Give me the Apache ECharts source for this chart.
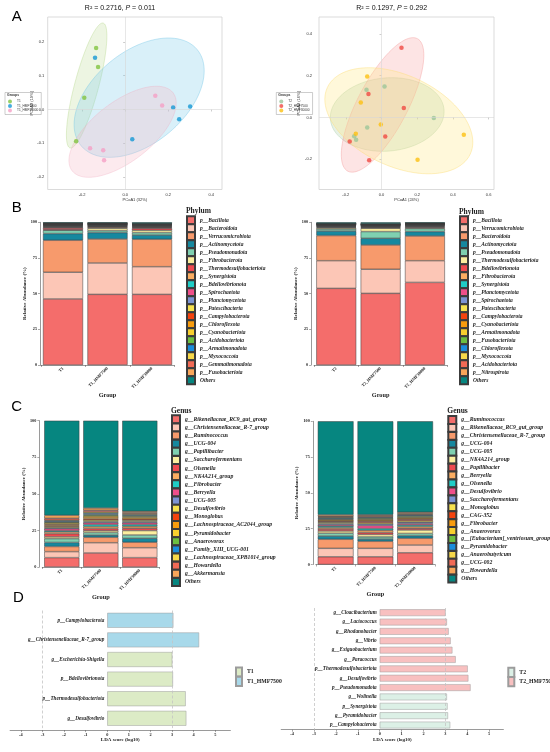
<!DOCTYPE html>
<html lang="en">
<head>
<meta charset="UTF-8">
<title>PCoA, community composition and LEfSe</title>
<script src="https://cdn.jsdelivr.net/npm/echarts@6.0.0/dist/echarts.min.js"></script>
<style>
    * { margin: 0; padding: 0; box-sizing: border-box; }
    body { width: 550px; height: 752px; background: #ffffff; overflow: hidden; }
    .layer { position: absolute; left: 0; top: 0; width: 550px; height: 752px; }
</style>
</head>
<body>
<div id="pcoaT1" class="layer"></div>
<div id="pcoaT2" class="layer"></div>
<div id="phylumT1" class="layer"></div>
<div id="phylumT2" class="layer"></div>
<div id="genusT1" class="layer"></div>
<div id="genusT2" class="layer"></div>
<div id="ldaT1" class="layer"></div>
<div id="ldaT2" class="layer"></div>
<script>
// ---------- data ----------
const groupsT1 = ['T1', 'T1_HMF7500', 'T1_HMF30000'];
const groupsT2 = ['T2', 'T2_HMF7500', 'T2_HMF30000'];

// PCoA scores [PCoA1, PCoA2]
const pcoaT1_T1 = [[-0.135, 0.182], [-0.126, 0.126], [-0.190, 0.035], [-0.228, -0.094]];
const pcoaT1_HMF7500 = [[-0.140, 0.153], [0.033, -0.088], [0.223, 0.006], [0.302, 0.009], [0.251, -0.029]];
const pcoaT1_HMF30000 = [[0.140, 0.041], [0.172, 0.012], [-0.163, -0.115], [-0.102, -0.121], [-0.098, -0.150]];
const pcoaT2_T2 = [[-0.084, 0.133], [0.017, 0.148], [-0.080, -0.048], [-0.153, -0.090], [-0.142, -0.107], [0.293, -0.003]];
const pcoaT2_HMF7500 = [[0.112, 0.335], [-0.073, 0.112], [0.125, 0.045], [0.021, -0.091], [-0.178, -0.115], [-0.069, -0.205]];
const pcoaT2_HMF30000 = [[-0.080, 0.197], [-0.116, 0.072], [-0.004, -0.034], [-0.144, -0.078], [0.461, -0.083], [0.202, -0.203]];
// ellipses: [cx, cy, axis1 dx, axis1 dy, axis2 dx, axis2 dy]
const ellipsesT1 = [
    [-0.179, 0.071, 0.077, 0.185, 0.054, -0.009],
    [0.065, 0.035, 0.269, 0.143, 0.138, -0.104],
    [-0.012, -0.066, 0.234, 0.116, 0.086, -0.069]
];
const ellipsesT2 = [
    [0.032, 0.014, 0.318, 0.024, 0.018, -0.175],
    [0.006, 0.060, 0.195, 0.318, 0.124, -0.056],
    [0.097, -0.016, 0.400, -0.160, -0.108, -0.198]
];

// phylum relative abundance (%)
const phylaT1 = ['p__Bacillota', 'p__Bacteroidota', 'p__Verrucomicrobiota', 'p__Actinomycetota', 'p__Pseudomonadota',
    'p__Fibrobacterota', 'p__Thermodesulfobacteriota', 'p__Synergistota', 'p__Bdellovibrionota', 'p__Spirochaetota',
    'p__Planctomycetota', 'p__Patescibacteria', 'p__Campylobacterota', 'p__Chloroflexota', 'p__Cyanobacteriota',
    'p__Acidobacteriota', 'p__Armatimonadota', 'p__Myxococcota', 'p__Gemmatimonadota', 'p__Fusobacteriota', 'Others'];
const phylumT1_T1 = [46.3, 18.7, 22.4, 4.7, 2.3, 0.4, 1.2, 0.5, 0.3, 0.4, 0.3, 0.3, 0.2, 0.3, 0.2, 0.2, 0.2, 0.2, 0.2, 0.1, 0.6];
const phylumT1_HMF7500 = [49.5, 22.0, 16.8, 4.5, 1.4, 1.6, 0.6, 0.4, 0.3, 0.3, 0.3, 0.3, 0.2, 0.2, 0.2, 0.2, 0.2, 0.2, 0.1, 0.1, 0.6];
const phylumT1_HMF30000 = [49.5, 19.4, 19.2, 3.0, 1.7, 1.6, 1.4, 0.5, 0.3, 0.4, 0.3, 0.3, 0.2, 0.3, 0.2, 0.2, 0.2, 0.2, 0.2, 0.1, 0.8];

const phylaT2 = ['p__Bacillota', 'p__Verrucomicrobiota', 'p__Bacteroidota', 'p__Actinomycetota', 'p__Pseudomonadota',
    'p__Thermodesulfobacteriota', 'p__Bdellovibrionota', 'p__Fibrobacterota', 'p__Synergistota', 'p__Planctomycetota',
    'p__Spirochaetota', 'p__Patescibacteria', 'p__Campylobacterota', 'p__Cyanobacteriota', 'p__Armatimonadota',
    'p__Fusobacteriota', 'p__Chloroflexota', 'p__Myxococcota', 'p__Acidobacteriota', 'p__Nitrospirota', 'Others'];
const phylumT2_T2 = [53.7, 19.4, 17.6, 3.2, 1.4, 0.8, 0.4, 0.4, 0.3, 0.3, 0.3, 0.2, 0.2, 0.2, 0.2, 0.1, 0.2, 0.1, 0.1, 0.1, 0.8];
const phylumT2_HMF7500 = [50.2, 16.9, 17.0, 4.7, 4.7, 2.3, 0.4, 0.4, 0.3, 0.3, 0.3, 0.2, 0.2, 0.2, 0.2, 0.1, 0.2, 0.1, 0.1, 0.1, 1.1];
const phylumT2_HMF30000 = [57.9, 15.2, 17.3, 3.1, 2.1, 0.5, 0.6, 0.4, 0.3, 0.3, 0.3, 0.2, 0.2, 0.2, 0.2, 0.1, 0.2, 0.1, 0.1, 0.1, 0.6];

// genus relative abundance (%)
const generaT1 = ['g__Rikenellaceae_RC9_gut_group', 'g__Christensenellaceae_R-7_group', 'g__Ruminococcus', 'g__UCG-004',
    'g__Papillibacter', 'g__Saccharofermentans', 'g__Olsenella', 'g__NK4A214_group', 'g__Fibrobacter', 'g__Berryella',
    'g__UCG-005', 'g__Desulfovibrio', 'g__Monoglobus', 'g__Lachnospiraceae_AC2044_group', 'g__Pyramidobacter',
    'g__Anaerovorax', 'g__Family_XIII_UCG-001', 'g__Lachnospiraceae_XPB1014_group', 'g__Howardella', 'g__Akkermansia', 'Others'];
const genusT1_T1 = [6.4, 4.1, 3.5, 2.8, 2.6, 1.2, 2.2, 1.2, 0.8, 1.4, 0.6, 0.8, 0.7, 0.9, 0.9, 0.6, 0.7, 0.6, 1.3, 2.0, 64.7];
const genusT1_HMF7500 = [9.6, 7.0, 3.7, 1.5, 1.8, 1.2, 1.5, 1.3, 1.4, 1.3, 0.8, 1.0, 0.8, 1.3, 0.9, 0.7, 1.0, 0.8, 1.2, 1.5, 59.7];
const genusT1_HMF30000 = [6.4, 6.8, 3.7, 2.7, 2.3, 3.0, 1.6, 1.3, 1.2, 1.3, 0.8, 0.9, 0.8, 1.0, 0.8, 0.6, 0.7, 0.6, 0.8, 0.8, 61.9];

const generaT2 = ['g__Ruminococcus', 'g__Rikenellaceae_RC9_gut_group', 'g__Christensenellaceae_R-7_group', 'g__UCG-004',
    'g__UCG-005', 'g__NK4A214_group', 'g__Papillibacter', 'g__Berryella', 'g__Olsenella', 'g__Desulfovibrio',
    'g__Saccharofermentans', 'g__Monoglobus', 'g__CAG-352', 'g__Fibrobacter', 'g__Anaerovorax',
    'g__[Eubacterium]_ventriosum_group', 'g__Pyramidobacter', 'g__Anaerobutyricum', 'g__UCG-002', 'g__Howardella', 'Others'];
const genusT2_T2 = [5.4, 5.9, 6.3, 2.3, 2.0, 1.5, 1.4, 1.0, 1.0, 1.0, 0.9, 0.8, 0.7, 0.8, 0.6, 0.6, 0.5, 0.5, 0.6, 1.0, 65.2];
const genusT2_HMF7500 = [5.4, 5.9, 4.9, 1.6, 1.5, 1.7, 1.4, 1.5, 1.2, 2.2, 1.0, 0.9, 1.0, 0.8, 0.7, 0.7, 0.6, 0.6, 0.6, 0.6, 65.2];
const genusT2_HMF30000 = [8.2, 5.4, 4.7, 1.8, 1.6, 2.4, 1.2, 1.3, 1.0, 1.1, 0.9, 1.0, 1.0, 0.8, 0.7, 0.8, 0.6, 0.6, 0.6, 0.8, 63.5];

// LEfSe LDA scores (log10)
const ldaT1Names = ['p__Campylobacterota', 'g__Christensenellaceae_R-7_group', 'g__Escherichia-Shigella',
    'p__Bdellovibrionota', 'p__Thermodesulfobacteriota', 'g__Desulfovibrio'];
const ldaT1Scores = [3.06, 4.25, 3.01, 3.04, 3.63, 3.66];
const ldaT1Groups = ['T1_HMF7500', 'T1_HMF7500', 'T1', 'T1', 'T1', 'T1'];

const ldaT2Names = ['g__Cloacibacterium', 'g__Lactococcus', 'g__Rhodanobacter', 'g__Vibrio', 'g__Exiguobacterium',
    'g__Paracoccus', 'p__Thermodesulfobacteriota', 'g__Desulfovibrio', 'p__Pseudomonadota', 'g__Wolinella',
    'p__Synergistota', 'g__Pyramidobacter', 'p__Campylobacterota'];
const ldaT2Scores = [3.01, 3.07, 3.15, 3.24, 3.32, 3.47, 4.02, 4.05, 4.15, 3.07, 3.10, 3.12, 3.22];
const ldaT2Groups = ['T2_HMF7500', 'T2_HMF7500', 'T2_HMF7500', 'T2_HMF7500', 'T2_HMF7500', 'T2_HMF7500',
    'T2_HMF7500', 'T2_HMF7500', 'T2_HMF7500', 'T2', 'T2', 'T2', 'T2'];
const ldaTicks = [-4, -3, -2, -1, 0, 1, 2, 3, 4, 5];

// ---------- styles ----------
const serif = 'Liberation Serif';
const sans = 'Liberation Sans';
const palette = ['#f46d6b', '#fcc6b6', '#f79a6c', '#16889f', '#7fd0b1', '#fbee9f', '#ef4a50', '#fbad62',
    '#1fcdc7', '#ef4f8a', '#7c93d4', '#f6e14e', '#f4430e', '#f89c0e', '#f8cf2f', '#6cbf40', '#1a8ddc',
    '#f7d84a', '#f16a56', '#f9a65a', '#068680'];
const legendExtra = 1.9; // legend rows come out this much taller than itemHeight

function initChart(id) {
    return echarts.init(document.getElementById(id), null, { width: 550, height: 752 });
}

function gridBox(g) {
    return { left: g[0], top: g[1], width: g[2], height: g[3], containLabel: false, outerBoundsMode: 'none' };
}

// ---------- A: PCoA ----------
function pcoaOption(cfg) {
    const series = [];
    cfg.ellipses.forEach(function (e, i) {
        series.push({
            type: 'custom', silent: true, z: 1, clip: true,
            data: [e],
            renderItem: function (params, api) {
                const v = [0, 1, 2, 3, 4, 5].map(function (k) { return api.value(k); });
                const pts = [];
                for (let s = 0; s < 96; s++) {
                    const t = s / 96 * Math.PI * 2;
                    pts.push(api.coord([v[0] + Math.cos(t) * v[2] + Math.sin(t) * v[4],
                        v[1] + Math.cos(t) * v[3] + Math.sin(t) * v[5]]));
                }
                return { type: 'polygon', shape: { points: pts },
                    style: { fill: cfg.fills[i], stroke: cfg.strokes[i], lineWidth: 0.6 } };
            }
        });
    });
    cfg.points.forEach(function (p, i) {
        series.push({
            name: cfg.groups[i], type: 'scatter', z: 3, symbolSize: 4.5,
            data: p, itemStyle: { color: cfg.colors[i] },
            markLine: i === 0 ? {
                silent: true, symbol: 'none', label: { show: false }, animation: false,
                lineStyle: { color: '#d6d6d6', width: 0.6, type: 'solid' },
                data: [{ xAxis: 0 }, { yAxis: 0 }]
            } : undefined
        });
    });
    const tickFont = { fontSize: 4, color: '#333', fontFamily: sans };
    return {
        animation: false,
        grid: Object.assign(gridBox(cfg.grid), { show: true, borderColor: '#d2d2d2', borderWidth: 0.8 }),
        legend: {
            orient: 'vertical', left: cfg.legendPos[0], top: cfg.legendPos[1], data: cfg.groups,
            icon: 'circle', itemWidth: 4, itemHeight: 4, itemGap: 0.5, padding: [7, 3, 2, 3],
            borderColor: '#9a9a9a', borderWidth: 0.5, selectedMode: false,
            textStyle: { fontSize: 3.2, color: '#333', fontFamily: sans }
        },
        xAxis: {
            type: 'value', min: cfg.xRange[0], max: cfg.xRange[1],
            axisLine: { show: false }, splitLine: { show: false },
            axisTick: { show: true, customValues: cfg.xTicks, length: 2, lineStyle: { color: '#999', width: 0.5 } },
            axisLabel: Object.assign({ customValues: cfg.xTicks, margin: 3,
                formatter: function (v) { return v.toFixed(1); } }, tickFont),
            name: cfg.xName, nameLocation: 'middle', nameGap: 5,
            nameTextStyle: { fontSize: 4, color: '#333', fontFamily: sans }
        },
        yAxis: {
            type: 'value', min: cfg.yRange[0], max: cfg.yRange[1],
            axisLine: { show: false }, splitLine: { show: false },
            axisTick: { show: true, customValues: cfg.yTicks, length: 2, lineStyle: { color: '#999', width: 0.5 } },
            axisLabel: Object.assign({ customValues: cfg.yTicks, margin: cfg.yLabelMargin,
                formatter: function (v) { return v.toFixed(1); } }, tickFont),
            name: cfg.yName, nameLocation: 'middle', nameGap: cfg.yNameGap,
            nameTextStyle: { fontSize: 4, color: '#333', fontFamily: sans }
        },
        graphic: cfg.graphic,
        series: series
    };
}

function statTitle(x, r2, p) {
    return {
        type: 'text', x: x, y: 8,
        style: {
            text: '{n|R\u00b2 = ' + r2 + ', }{i|P}{n| = ' + p + '}',
            align: 'center', verticalAlign: 'middle',
            rich: {
                n: { fontSize: 7, fontFamily: sans, fill: '#111' },
                i: { fontSize: 7, fontFamily: sans, fontStyle: 'italic', fill: '#111' }
            }
        }
    };
}

function groupsLabel(x, y) {
    return { type: 'text', x: x, y: y,
        style: { text: 'Groups', fontSize: 3.4, fontWeight: 'bold', fontFamily: sans, fill: '#333' } };
}

function panelLetter(letter, x, y) {
    return { type: 'text', x: x, y: y,
        style: { text: letter, fontSize: 15, fontFamily: sans, fill: '#000', align: 'center', verticalAlign: 'middle' } };
}

initChart('pcoaT1').setOption(pcoaOption({
    groups: groupsT1,
    points: [pcoaT1_T1, pcoaT1_HMF7500, pcoaT1_HMF30000],
    ellipses: ellipsesT1,
    colors: ['#82c441', '#1798d4', '#f5a0c5'],
    fills: ['rgba(196,222,160,0.30)', 'rgba(130,206,234,0.30)', 'rgba(246,186,200,0.30)'],
    strokes: ['rgba(170,208,120,0.55)', 'rgba(110,196,228,0.65)', 'rgba(240,170,190,0.55)'],
    grid: [47.7, 17, 174.3, 172.5],
    xRange: [-0.36, 0.45], yRange: [-0.237, 0.274],
    xTicks: [-0.2, 0, 0.2, 0.4], yTicks: [-0.2, -0.1, 0, 0.1, 0.2],
    xName: 'PCoA1 (32%)', yName: 'PCoA2 (19%)', yLabelMargin: 3.5, yNameGap: 9,
    legendPos: [5, 92.5],
    graphic: [
        statTitle(120, '0.2716', '0.011'),
        groupsLabel(7, 94),
        panelLetter('A', 16.7, 16.7),
        panelLetter('B', 16.7, 208.3),
        panelLetter('C', 16.7, 406.7),
        panelLetter('D', 18.3, 598.3)
    ]
}));

initChart('pcoaT2').setOption(pcoaOption({
    groups: groupsT2,
    points: [pcoaT2_T2, pcoaT2_HMF7500, pcoaT2_HMF30000],
    ellipses: ellipsesT2,
    colors: ['#9cc59a', '#f04a43', '#fdc012'],
    fills: ['rgba(170,206,160,0.28)', 'rgba(246,150,150,0.26)', 'rgba(255,232,140,0.32)'],
    strokes: ['rgba(150,195,150,0.55)', 'rgba(242,150,150,0.65)', 'rgba(252,222,120,0.75)'],
    grid: [319, 17, 175, 172.5],
    xRange: [-0.35, 0.63], yRange: [-0.346, 0.482],
    xTicks: [-0.2, 0, 0.2, 0.4, 0.6], yTicks: [-0.2, 0, 0.2, 0.4],
    xName: 'PCoA1 (24%)', yName: 'PCoA2 (16%)', yLabelMargin: 7, yNameGap: 12,
    legendPos: [276.3, 92.5],
    graphic: [
        statTitle(391.7, '0.1297', '0.292'),
        groupsLabel(278.3, 94)
    ]
}));

// ---------- B / C: stacked composition ----------
function stackOption(cfg) {
    const series = cfg.names.map(function (name, i) {
        return {
            name: name, type: 'bar', stack: 'total', barCategoryGap: '10%',
            data: cfg.values.map(function (g) { return g[i]; }),
            itemStyle: { color: palette[i], borderColor: '#3c3c3c', borderWidth: 0.5 }
        };
    });
    const boldSerif = { fontFamily: serif, fontWeight: 'bold', color: '#222' };
    return {
        animation: false,
        title: {
            text: cfg.legendTitle, left: cfg.legendLeft, top: cfg.titleTop, padding: 0,
            textStyle: Object.assign({ fontSize: 7.5 }, boldSerif)
        },
        legend: {
            orient: 'vertical', left: cfg.legendLeft, top: cfg.legendTop, padding: 0,
            itemWidth: 8, itemHeight: cfg.legendStep, itemGap: -legendExtra, icon: 'rect',
            data: cfg.names, selectedMode: false,
            textStyle: Object.assign({ fontStyle: 'italic', fontSize: cfg.legendFont }, boldSerif)
        },
        grid: gridBox(cfg.grid),
        xAxis: {
            type: 'category', data: cfg.groups,
            axisLine: { lineStyle: { color: '#555', width: 0.6 } },
            axisTick: { show: true, length: 2, lineStyle: { color: '#555', width: 0.5 } },
            axisLabel: Object.assign({ rotate: 45, fontSize: 4.3, margin: 3 }, boldSerif),
            name: 'Group', nameLocation: 'middle', nameGap: cfg.xNameGap,
            nameTextStyle: Object.assign({ fontSize: 6.3 }, boldSerif)
        },
        yAxis: {
            type: 'value', min: 0, max: 100, interval: 25, offset: cfg.yOffset,
            splitLine: { show: false },
            axisLine: { show: true, lineStyle: { color: '#555', width: 0.6 } },
            axisTick: { show: true, length: 2, lineStyle: { color: '#555', width: 0.5 } },
            axisLabel: Object.assign({ fontSize: 4.2, margin: 3 }, boldSerif),
            name: 'Relative Abundance (%)', nameLocation: 'middle', nameGap: 13,
            nameTextStyle: Object.assign({ fontSize: 5 }, boldSerif)
        },
        series: series
    };
}

initChart('phylumT1').setOption(stackOption({
    names: phylaT1, groups: groupsT1,
    values: [phylumT1_T1, phylumT1_HMF7500, phylumT1_HMF30000],
    grid: [40.75, 222.3, 133.5, 142.7], yOffset: 0.75, xNameGap: 27.5,
    legendTitle: 'Phylum', legendLeft: 186, titleTop: 207.5, legendTop: 215.35, legendStep: 7.9, legendFont: 5.5
}));

initChart('phylumT2').setOption(stackOption({
    names: phylaT2, groups: groupsT2,
    values: [phylumT2_T2, phylumT2_HMF7500, phylumT2_HMF30000],
    grid: [314.1, 222.3, 133, 142.7], yOffset: 3, xNameGap: 27.5,
    legendTitle: 'Phylum', legendLeft: 459, titleTop: 208, legendTop: 215.35, legendStep: 7.9, legendFont: 5.5
}));

initChart('genusT1').setOption(stackOption({
    names: generaT1, groups: groupsT1,
    values: [genusT1_T1, genusT1_HMF7500, genusT1_HMF30000],
    grid: [42.3, 420.7, 117, 146.3], yOffset: 3, xNameGap: 27.5,
    legendTitle: 'Genus', legendLeft: 171, titleTop: 406.7, legendTop: 414.3, legendStep: 8.03, legendFont: 5.7
}));

initChart('genusT2').setOption(stackOption({
    names: generaT2, groups: groupsT2,
    values: [genusT2_T2, genusT2_HMF7500, genusT2_HMF30000],
    grid: [315.8, 421.3, 119.2, 143.2], yOffset: 3, xNameGap: 26.3,
    legendTitle: 'Genus', legendLeft: 447.3, titleTop: 407.3, legendTop: 415.1, legendStep: 7.83, legendFont: 5.7
}));

// ---------- D: LDA ----------
function ldaOption(cfg) {
    const boldSerif = { fontFamily: serif, fontWeight: 'bold', color: '#222' };
    const series = cfg.legend.map(function (g, k) {
        return {
            name: g, type: 'bar', stack: 'lda', barCategoryGap: cfg.barGap,
            data: cfg.scores.map(function (v, i) { return cfg.groups[i] === g ? v : '-'; }),
            itemStyle: { color: cfg.colors[k], borderColor: '#9c9c9c', borderWidth: 0.5 },
            label: Object.assign({ show: true, position: 'left', distance: 3, formatter: '{b}',
                fontSize: 5.2, fontStyle: 'italic' }, boldSerif),
            markLine: k === 0 ? {
                silent: true, symbol: 'none', label: { show: false }, animation: false,
                lineStyle: { color: '#c4c4c4', width: 0.8, type: [3, 2] },
                data: [{ xAxis: -3 }, { xAxis: 3 }]
            } : undefined
        };
    });
    return {
        animation: false,
        legend: {
            orient: 'vertical', left: cfg.legendPos[0], top: cfg.legendPos[1], padding: 0,
            itemWidth: 6, itemHeight: 9.2, itemGap: -legendExtra, icon: 'rect', selectedMode: false,
            data: cfg.legend,
            textStyle: Object.assign({ fontSize: 5.8 }, boldSerif)
        },
        grid: gridBox(cfg.grid),
        xAxis: {
            type: 'value', min: -4.5, max: cfg.xMax, offset: cfg.xOffset,
            splitLine: { show: false },
            axisLine: { show: true, lineStyle: { color: '#555', width: 0.6 } },
            axisTick: { show: true, customValues: ldaTicks, length: 2, lineStyle: { color: '#555', width: 0.5 } },
            axisLabel: Object.assign({ customValues: ldaTicks, fontSize: 4.3, margin: 2.5 }, boldSerif),
            name: 'LDA score (log10)', nameLocation: 'middle', nameGap: 7.5,
            nameTextStyle: Object.assign({ fontSize: 5 }, boldSerif)
        },
        yAxis: {
            type: 'category', data: cfg.names, inverse: true,
            axisLine: { show: false }, axisTick: { show: false }, axisLabel: { show: false }
        },
        series: series
    };
}

initChart('ldaT1').setOption(ldaOption({
    names: ldaT1Names, scores: ldaT1Scores, groups: ldaT1Groups,
    legend: ['T1', 'T1_HMF7500'], colors: ['#dcebc6', '#a8d9ea'],
    grid: [10.1, 610.5, 220.3, 117.6], xMax: 5.7, xOffset: 2, barGap: '24%',
    legendPos: [235, 666.4]
}));

initChart('ldaT2').setOption(ldaOption({
    names: ldaT2Names, scores: ldaT2Scores, groups: ldaT2Groups,
    legend: ['T2', 'T2_HMF7500'], colors: ['#dcf0e6', '#f8c0c0'],
    grid: [281.2, 608, 222.2, 121.7], xMax: 5.65, xOffset: 0, barGap: '28%',
    legendPos: [507.3, 666.7]
}));
</script>
</body>
</html>
